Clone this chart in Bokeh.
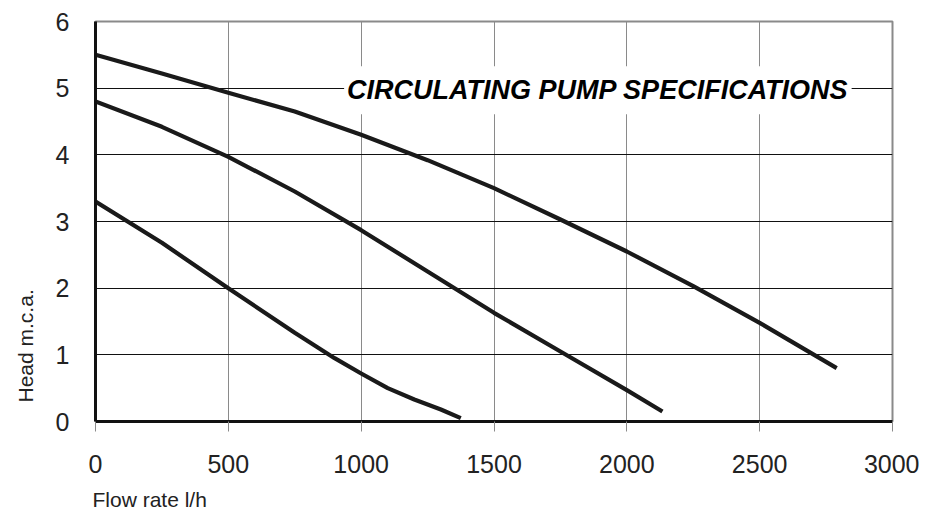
from bokeh.plotting import figure
from bokeh.models import FixedTicker, Range1d, Label, Title
from bokeh.embed import file_html
from bokeh.resources import INLINE

# Data
curve_top_x = [0, 250, 500, 750, 1000, 1250, 1500, 1750, 2000, 2250, 2500, 2790]
curve_top_y = [5.5, 5.22, 4.93, 4.65, 4.3, 3.92, 3.5, 3.03, 2.55, 2.03, 1.48, 0.8]

curve_mid_x = [0, 250, 500, 750, 1000, 1250, 1500, 1750, 2000, 2134]
curve_mid_y = [4.8, 4.42, 3.97, 3.45, 2.87, 2.25, 1.63, 1.05, 0.47, 0.15]

curve_low_x = [0, 250, 500, 750, 900, 1000, 1100, 1200, 1300, 1375]
curve_low_y = [3.3, 2.68, 2.0, 1.33, 0.95, 0.72, 0.5, 0.33, 0.18, 0.05]

x_ticks = [0, 500, 1000, 1500, 2000, 2500, 3000]
y_ticks = [0, 1, 2, 3, 4, 5, 6]

title_text = "CIRCULATING PUMP SPECIFICATIONS"
x_label = "Flow rate l/h"
y_label = "Head m.c.a."

FONT = "Liberation Sans"
TXT = "#222222"
GREY = "#8a8a8a"

p = figure(frame_width=797, frame_height=400,
           min_border_left=95, min_border_right=27,
           min_border_top=21, min_border_bottom=90,
           x_range=Range1d(0, 3000), y_range=Range1d(0, 6),
           output_backend="svg", toolbar_location=None,
           background_fill_color="white", border_fill_color="white")

p.outline_line_color = GREY
p.outline_line_width = 2

# grids
p.xgrid.ticker = FixedTicker(ticks=x_ticks[1:-1])
p.ygrid.ticker = FixedTicker(ticks=y_ticks[1:-1])
p.xgrid.grid_line_color = GREY
p.xgrid.grid_line_width = 1
p.ygrid.grid_line_color = "#111111"
p.ygrid.grid_line_width = 1

# x axis
p.xaxis.ticker = FixedTicker(ticks=x_ticks)
p.xaxis.axis_line_color = "#111111"
p.xaxis.axis_line_width = 3
p.xaxis.major_tick_out = 10
p.xaxis.major_tick_in = 0
p.xaxis.major_tick_line_color = GREY
p.xaxis.major_tick_line_width = 1
p.xaxis.minor_tick_line_color = None
p.xaxis.major_label_text_font = FONT
p.xaxis.major_label_text_font_size = "25px"
p.xaxis.major_label_text_color = TXT
p.xaxis.major_label_standoff = 23

# y axis
p.yaxis.ticker = FixedTicker(ticks=y_ticks)
p.yaxis.axis_line_color = "#111111"
p.yaxis.axis_line_width = 3
p.yaxis.major_tick_out = 0
p.yaxis.major_tick_in = 0
p.yaxis.minor_tick_line_color = None
p.yaxis.major_label_text_font = FONT
p.yaxis.major_label_text_font_size = "25px"
p.yaxis.major_label_text_color = TXT
p.yaxis.major_label_standoff = 26

# curves
for xs, ys in [(curve_top_x, curve_top_y), (curve_mid_x, curve_mid_y), (curve_low_x, curve_low_y)]:
    p.line(xs, ys, line_color="#1a1a1a", line_width=4.2, line_cap="butt", line_join="round")

# title box inside the plot
p.add_layout(Label(x=1891, y=4.97, text=title_text, text_align="center",
                   text_baseline="middle", text_font=FONT, text_font_size="27px",
                   text_font_style="bold italic", text_color="#000000",
                   background_fill_color="white", padding=(3, 9)))

# axis labels as side titles
p.add_layout(Title(text=y_label, align="left", offset=19, standoff=27,
                   vertical_align="top",
                   text_font=FONT, text_font_size="21px", text_font_style="normal",
                   text_color=TXT), "left")
p.add_layout(Title(text=x_label, align="left", offset=-3, standoff=20,
                   text_font=FONT, text_font_size="21px", text_font_style="normal",
                   text_color=TXT), "below")

open("out.html", "w").write(file_html(p, INLINE))
